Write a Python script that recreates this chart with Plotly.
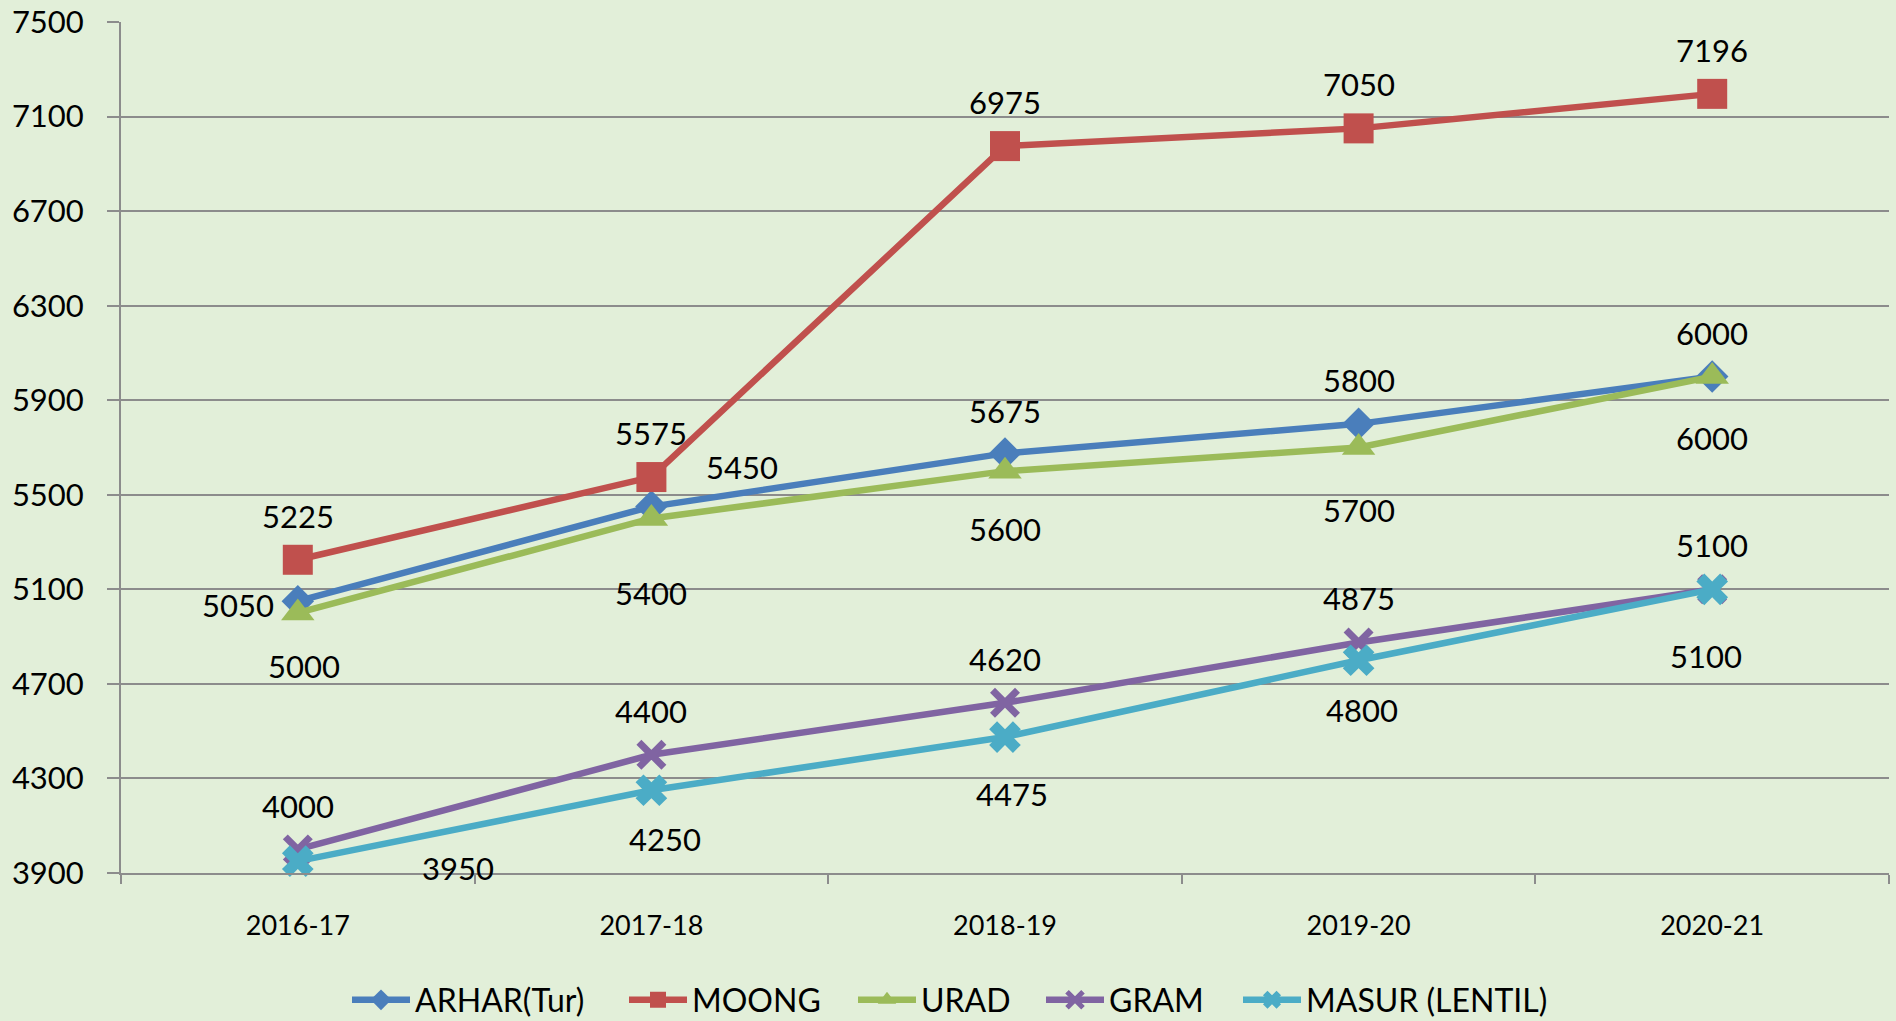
import plotly.graph_objects as go

years = ["2016-17", "2017-18", "2018-19", "2019-20", "2020-21"]
arhar = [5050, 5450, 5675, 5800, 6000]
moong = [5225, 5575, 6975, 7050, 7196]
urad = [5000, 5400, 5600, 5700, 6000]
gram = [4000, 4400, 4620, 4875, 5100]
masur = [3950, 4250, 4475, 4800, 5100]
y_ticks = list(range(3900, 7501, 400))

series = [
    dict(name="ARHAR(Tur)", values=arhar, color="#4A7EBB",
         marker=dict(symbol="diamond", size=25),
         shifts=[(-60, -4), (91, 40), (0, 42), (0, 44), (0, 44)], text_x=415),
    dict(name="MOONG", values=moong, color="#C0504D",
         marker=dict(symbol="square", size=30),
         shifts=[(0, 44)] * 5, text_x=692),
    dict(name="URAD", values=urad, color="#9BBB59",
         marker=dict(symbol="triangle-up", size=29),
         shifts=[(6, -53), (0, -75), (0, -58), (0, -62), (0, -61)], text_x=921),
    dict(name="GRAM", values=gram, color="#8064A2",
         marker=dict(symbol="x-thin-open", size=25, line=dict(width=7)),
         shifts=[(0, 43), (0, 44), (0, 44), (0, 45), (0, 44)], text_x=1109),
    dict(name="MASUR (LENTIL)", values=masur, color="#4BACC6",
         marker=dict(symbol="x", size=28),
         shifts=[(160, -7), (14, -49), (7, -57), (3, -50), (-6, -67)], text_x=1306),
]

FONT = "Lato"
BG = "#E2EFD9"
GRID = "#8C8C8C"
W, H = 1896, 1021
ML, MR, MT, MB = 121, 7, 22, 148
PW = W - ML - MR
PH = H - MT - MB
TEXT_OFFSET = 68  # px from legend box left to legend text start

fig = go.Figure()
annotations = []
legends = {}
for i, s in enumerate(series):
    m = dict(s["marker"])
    m["color"] = s["color"]
    if "line" in m:
        m["line"] = dict(width=m["line"]["width"], color=s["color"])
    lname = "legend" if i == 0 else f"legend{i + 1}"
    fig.add_trace(go.Scatter(
        x=years, y=s["values"], name=s["name"], mode="lines+markers",
        line=dict(color=s["color"], width=6.5), marker=m, cliponaxis=False,
        legend=lname,
    ))
    legends[lname] = dict(
        orientation="h", x=(s["text_x"] - ML - TEXT_OFFSET) / PW, xanchor="left",
        y=-(1000 - (MT + PH)) / PH, yanchor="middle",
        font=dict(family=FONT, size=32), bgcolor="rgba(0,0,0,0)", itemwidth=58,
    )
    for xv, yv, (dx, dy) in zip(years, s["values"], s["shifts"]):
        annotations.append(dict(
            x=xv, y=yv, xref="x", yref="y", text=str(yv), showarrow=False,
            xshift=dx, yshift=dy, xanchor="center", yanchor="middle",
            font=dict(family=FONT, size=31, color="black"),
        ))

fig.update_layout(
    width=W, height=H,
    paper_bgcolor=BG, plot_bgcolor=BG,
    margin=dict(l=ML, r=MR, t=MT, b=MB, autoexpand=False),
    font=dict(family=FONT, color="black"),
    showlegend=True,
    annotations=annotations,
    **legends,
)
fig.update_xaxes(
    type="category", range=[-0.5, 4.5], tickson="boundaries",
    ticks="outside", ticklen=9, tickwidth=2, tickcolor=GRID,
    showline=True, linecolor=GRID, linewidth=2, showgrid=False,
    tickfont=dict(family=FONT, size=27), ticklabelstandoff=28,
)
fig.update_yaxes(
    range=[3900, 7500], tickvals=y_ticks, ticktext=[str(v) for v in y_ticks],
    showgrid=True, gridcolor=GRID, gridwidth=2,
    showline=True, linecolor=GRID, linewidth=2, zeroline=False,
    ticks="outside", ticklen=12, tickwidth=2, tickcolor=GRID,
    tickfont=dict(family=FONT, size=31), ticklabelstandoff=17,
)

fig.write_html(
    "out.html",
    config={"displayModeBar": False},
    post_script="document.body.style.margin='0';document.body.style.overflow='hidden';",
)
